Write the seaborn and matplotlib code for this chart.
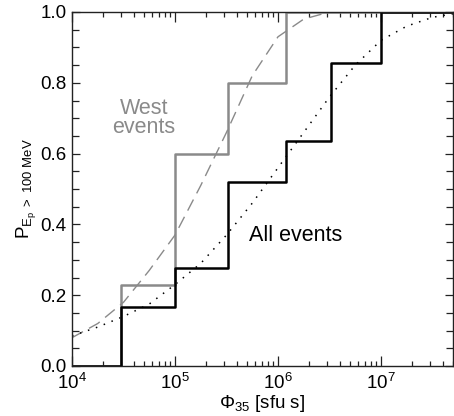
import numpy as np
import pandas as pd
import matplotlib
matplotlib.use("Agg")
import matplotlib.pyplot as plt
import seaborn as sns
from matplotlib.ticker import LogLocator, MultipleLocator, NullFormatter

# Step (empirical) probabilities
all_x = [1e4, 3.0e4, 1e5, 3.3e5, 1.2e6, 3.3e6, 1e7, 5e7]
all_y = [0.0, 0.167, 0.278, 0.52, 0.636, 0.857, 1.0, 1.0]
west_x = [1e4, 3.0e4, 1e5, 3.3e5, 1.2e6, 5e7]
west_y = [0.0, 0.23, 0.6, 0.8, 1.0, 1.0]

# Fitted curves (log10 flux, probability)
all_fit_logx = [4.0, 4.25, 4.5, 4.75, 5.0, 5.25, 5.5, 5.75, 6.0, 6.25, 6.5, 6.75, 7.0, 7.25, 7.5, 7.7]
all_fit_y = [0.085, 0.11, 0.14, 0.175, 0.23, 0.29, 0.37, 0.46, 0.56, 0.66, 0.76, 0.85, 0.92, 0.96, 0.985, 0.995]
west_fit_logx = [4.0, 4.25, 4.5, 4.75, 5.0, 5.25, 5.5, 5.75, 6.0, 6.25, 6.5, 7.0, 7.7]
west_fit_y = [0.08, 0.12, 0.18, 0.27, 0.37, 0.51, 0.66, 0.82, 0.93, 0.98, 1.0, 1.0, 1.0]

sns.set_style("ticks")
plt.rcParams['font.family'] = ['Liberation Sans', 'DejaVu Sans']
plt.rcParams['mathtext.fontset'] = 'custom'
plt.rcParams['mathtext.rm'] = 'Liberation Sans'
plt.rcParams['mathtext.it'] = 'Liberation Sans'
plt.rcParams['mathtext.default'] = 'regular'

fig = plt.figure(figsize=(4.54, 4.16), dpi=100)
ax = fig.add_axes([72/454, 50/416, 381/454, 354/416])

df_all = pd.DataFrame({'x': all_x, 'y': all_y})
df_west = pd.DataFrame({'x': west_x, 'y': west_y})
df_all_fit = pd.DataFrame({'x': 10**np.array(all_fit_logx), 'y': all_fit_y})
df_west_fit = pd.DataFrame({'x': 10**np.array(west_fit_logx), 'y': west_fit_y})

grey = '#8a8a8a'
sns.lineplot(data=df_west_fit, x='x', y='y', ax=ax, color=grey, lw=1.0,
             linestyle=(0, (9, 5)), sort=False)
sns.lineplot(data=df_all_fit, x='x', y='y', ax=ax, color='black', lw=1.1,
             linestyle=(0, (1, 4.5)), sort=False)
sns.lineplot(data=df_west, x='x', y='y', ax=ax, color=grey, lw=1.8,
             drawstyle='steps-post', sort=False)
sns.lineplot(data=df_all, x='x', y='y', ax=ax, color='black', lw=1.8,
             drawstyle='steps-post', sort=False)

ax.set_xscale('log')
ax.set_xlim(1e4, 5e7)
ax.set_ylim(0, 1.0)
ax.xaxis.set_major_locator(LogLocator(base=10, numticks=10))
ax.xaxis.set_minor_locator(LogLocator(base=10, subs=np.arange(2, 10), numticks=20))
ax.xaxis.set_minor_formatter(NullFormatter())
ax.yaxis.set_major_locator(MultipleLocator(0.2))
ax.yaxis.set_minor_locator(MultipleLocator(0.05))
ax.yaxis.set_major_formatter(matplotlib.ticker.FormatStrFormatter('%.1f'))

ax.tick_params(axis='both', which='both', direction='in', top=True, right=True,
               labelsize=13.5, color='#222222', width=0.9, labelcolor='black')
ax.tick_params(axis='x', which='major', length=7, pad=5)
ax.tick_params(axis='x', which='minor', length=3.5)
ax.tick_params(axis='y', which='major', length=6, pad=4)
ax.tick_params(axis='y', which='minor', length=5)
for s in ax.spines.values():
    s.set_linewidth(1.0)
    s.set_color('#222222')

ax.set_xlabel(r'$\Phi_{35}$ [sfu s]', fontsize=13.5, labelpad=0, color='black')
ax.set_ylabel(r'P$_{E_p\ >\ 100\ MeV}$', fontsize=13.5, labelpad=1, color='black')

ax.text(5.0e4, 0.70, 'West\nevents', color=grey, fontsize=15.5,
        ha='center', va='center', linespacing=0.85)
ax.text(5.2e5, 0.37, 'All events', color='black', fontsize=15.5,
        ha='left', va='center')

fig.savefig('out.png', dpi=100)
